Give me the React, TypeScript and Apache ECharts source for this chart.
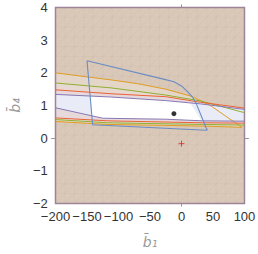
import React, { useEffect, useRef } from "react";
import * as echarts from "echarts";

// Tick labels
const xTickLabels = [-200, -150, -100, -50, 0, 50, 100];
const yTickLabels = [-2, -1, 0, 1, 2, 3, 4];
const xMinorTicks = [-200, -190, -180, -170, -160, -150, -140, -130, -120, -110, -100, -90, -80, -70, -60, -50, -40, -30, -20, -10, 0, 10, 20, 30, 40, 50, 60, 70, 80, 90, 100];
const yMinorTicks = [-2, -1.8, -1.6, -1.4, -1.2, -1, -0.8, -0.6, -0.4, -0.2, 0, 0.2, 0.4, 0.6, 0.8, 1, 1.2, 1.4, 1.6, 1.8, 2, 2.2, 2.4, 2.6, 2.8, 3, 3.2, 3.4, 3.6, 3.8, 4];

// Plotted region
const regionX = [-200, 100];
const regionY = [-2, 4];

// Blue polygon boundary
const polyX = [-150, -27, -12, 0, 10, 18, 23, 39, 41, 39, -141];
const polyY = [2.37, 1.8, 1.73, 1.6, 1.42, 1.24, 1.08, 0.32, 0.26, 0.24, 0.41];

// Curve families (upper / lower boundaries)
const orangeUpX = [-200, -110, -70, -25, 16, 45, 96];
const orangeUpY = [2.0, 1.78, 1.67, 1.5, 1.28, 1.01, 0.33];
const orangeLoX = [-200, -117, 33, 96];
const orangeLoY = [0.51, 0.42, 0.37, 0.33];

const greenUpX = [-200, -112, -25, 30, 100];
const greenUpY = [1.69, 1.54, 1.32, 1.14, 0.78];
const greenLoX = [-200, -117, 33, 100];
const greenLoY = [0.57, 0.47, 0.42, 0.4];

const redUpX = [-200, -112, -25, 30, 100];
const redUpY = [1.48, 1.36, 1.27, 1.1, 0.92];
const redLoX = [-200, -117, 33, 100];
const redLoY = [0.62, 0.53, 0.47, 0.46];

const purpleUpX = [-200, -112, -25, 30, 100];
const purpleUpY = [1.34, 1.26, 1.15, 1.05, 0.88];
const purpleLoX = [-200, -125, -25, 33, 100];
const purpleLoY = [0.93, 0.61, 0.58, 0.53, 0.52];

// Points
const dotX = [-12];
const dotY = [0.75];
const crossX = [0];
const crossY = [-0.17];

const zip = (xs: number[], ys: number[]) => xs.map((x, i) => [x, ys[i]]);
const band = (ux: number[], uy: number[], lx: number[], ly: number[]) =>
  zip(ux, uy).concat(zip(lx, ly).reverse());

function clipPolygon(subject: number[][], clip: number[][]) {
  let area = 0;
  for (let i = 0; i < clip.length; i++) {
    const a = clip[i], b = clip[(i + 1) % clip.length];
    area += a[0] * b[1] - b[0] * a[1];
  }
  const sgn = area > 0 ? 1 : -1;
  let output = subject;
  for (let i = 0; i < clip.length; i++) {
    const a = clip[i], b = clip[(i + 1) % clip.length];
    const f = (p: number[]) => sgn * ((b[0] - a[0]) * (p[1] - a[1]) - (b[1] - a[1]) * (p[0] - a[0]));
    const input = output;
    output = [];
    for (let j = 0; j < input.length; j++) {
      const cur = input[j];
      const prev = input[(j + input.length - 1) % input.length];
      const fc = f(cur), fp = f(prev);
      const inter = () => {
        const t = fp / (fp - fc);
        return [prev[0] + t * (cur[0] - prev[0]), prev[1] + t * (cur[1] - prev[1])];
      };
      if (fc >= 0) {
        if (fp < 0) output.push(inter());
        output.push(cur);
      } else if (fp >= 0) {
        output.push(inter());
      }
    }
    if (!output.length) break;
  }
  return output;
}

const fillSeries = (pts: number[][], fill: string, stroke = "none", lw = 0) => ({
  type: "custom",
  coordinateSystem: "cartesian2d",
  silent: true,
  data: [[0, 0]],
  renderItem: (_p: any, api: any) => ({
    type: "polygon",
    shape: { points: pts.map((p) => api.coord(p)) },
    style: { fill, stroke, lineWidth: lw },
  }),
});

// faint rendering-mesh texture over the region (style only)
const meshSeries = () => ({
  type: "custom",
  coordinateSystem: "cartesian2d",
  silent: true,
  data: [[0, 0]],
  renderItem: (_p: any, api: any) => {
    const p0 = api.coord([regionX[0], regionY[1]]);
    const p1 = api.coord([regionX[1], regionY[0]]);
    const x0 = p0[0], y0 = p0[1], x1 = p1[0], y1 = p1[1];
    const n = 20;
    const sx = (x1 - x0) / n, sy = (y1 - y0) / n;
    const children: any[] = [];
    const gridStyle = { stroke: "rgba(120,100,90,0.07)", lineWidth: 0.6 };
    const diagStyle = { stroke: "rgba(120,100,90,0.11)", lineWidth: 0.6 };
    for (let i = 1; i < n; i++) {
      children.push({ type: "line", shape: { x1: x0 + i * sx, y1: y0, x2: x0 + i * sx, y2: y1 }, style: gridStyle });
      children.push({ type: "line", shape: { x1: x0, y1: y0 + i * sy, x2: x1, y2: y0 + i * sy }, style: gridStyle });
    }
    for (let k = 1; k < 2 * n; k++) {
      const seg: number[][] = [];
      for (let i = 0; i <= n; i++) {
        const j = k - i;
        if (j >= 0 && j <= n) seg.push([x0 + i * sx, y0 + j * sy]);
      }
      if (seg.length >= 2) {
        const a = seg[0], b = seg[seg.length - 1];
        children.push({ type: "line", shape: { x1: a[0], y1: a[1], x2: b[0], y2: b[1] }, style: diagStyle });
      }
    }
    return { type: "group", children };
  },
});

const lineSeries = (xs: number[], ys: number[], color: string, w = 1) => ({
  type: "line",
  data: zip(xs, ys),
  symbol: "none",
  silent: true,
  lineStyle: { color, width: w },
});

export default function App() {
  const ref = useRef<HTMLDivElement>(null);
  useEffect(() => {
    if (!ref.current) return;
    document.body.style.margin = "0";
    const chart = echarts.init(ref.current, null, { renderer: "svg" });
    const poly = zip(polyX, polyY);
    const purpleBand = band(purpleUpX, purpleUpY, purpleLoX, purpleLoY);
    const whiteArea = clipPolygon(purpleBand, poly);
    const regionRect = [
      [regionX[0], regionY[0]],
      [regionX[1], regionY[0]],
      [regionX[1], regionY[1]],
      [regionX[0], regionY[1]],
    ];
    const frameColor = "#9a9a9a";
    const labelStyle = { color: "#333", fontSize: 13, fontFamily: "Liberation Sans" };
    const fmt = (v: number) => String(v).replace("-", "\u2212");
    const mkX = (position: string, ticks: number[], len: number, labels: boolean, line: boolean, extra: any = {}) => ({
      type: "value",
      position,
      min: -206,
      max: 106,
      axisLine: { show: line, lineStyle: { color: frameColor, width: 1 } },
      axisTick: { show: true, inside: true, length: len, customValues: ticks, lineStyle: { color: frameColor } },
      axisLabel: labels ? { ...labelStyle, customValues: xTickLabels, margin: 4, formatter: fmt } : { show: false },
      splitLine: { show: false },
      ...extra,
    });
    const mkY = (position: string, ticks: number[], len: number, labels: boolean, line: boolean, extra: any = {}) => ({
      type: "value",
      position,
      min: -2.08,
      max: 4.08,
      axisLine: { show: line, lineStyle: { color: frameColor, width: 1 } },
      axisTick: { show: true, inside: true, length: len, customValues: ticks, lineStyle: { color: frameColor } },
      axisLabel: labels ? { ...labelStyle, customValues: yTickLabels, margin: 4, formatter: fmt } : { show: false },
      splitLine: { show: false },
      ...extra,
    });
    chart.setOption({
      animation: false,
      grid: { left: 35, right: 7, top: 5, bottom: 37 },
      xAxis: [
        mkX("bottom", xTickLabels, 4, true, true, {
          name: "b\u0304\u2081",
          nameLocation: "middle",
          nameGap: 29,
          nameTextStyle: { color: "#999", fontSize: 14, fontStyle: "italic", fontFamily: "DejaVu Sans" },
        }),
        mkX("bottom", xMinorTicks, 2, false, false),
        mkX("top", xTickLabels, 4, false, true),
        mkX("top", xMinorTicks, 2, false, false),
      ],
      yAxis: [
        mkY("left", yTickLabels, 4, true, true, {
          name: "b\u0304\u2084",
          nameLocation: "middle",
          nameGap: 22,
          nameTextStyle: { color: "#999", fontSize: 14, fontStyle: "italic", fontFamily: "DejaVu Sans" },
        }),
        mkY("left", yMinorTicks, 2, false, false),
        mkY("right", yTickLabels, 4, false, true),
        mkY("right", yMinorTicks, 2, false, false),
      ],
      series: [
        fillSeries(regionRect, "#dac9b8"),
        meshSeries(),
        fillSeries(band(orangeUpX, orangeUpY, orangeLoX, orangeLoY), "rgba(229,216,202,0.85)"),
        fillSeries(band(greenUpX, greenUpY, greenLoX, greenLoY), "rgba(232,216,210,0.85)"),
        fillSeries(band(redUpX, redUpY, redLoX, redLoY), "rgba(230,216,222,0.85)"),
        fillSeries(purpleBand, "#e9ecf6"),
        fillSeries(whiteArea, "#ffffff"),
        fillSeries(regionRect, "none", "#9c8598", 1.5),
        lineSeries(orangeUpX, orangeUpY, "#e19c24"),
        lineSeries(orangeLoX, orangeLoY, "#e19c24"),
        lineSeries(greenUpX, greenUpY, "#8fb032"),
        lineSeries(greenLoX, greenLoY, "#8fb032"),
        lineSeries(redUpX, redUpY, "#eb6235"),
        lineSeries(redLoX, redLoY, "#eb6235"),
        lineSeries(purpleUpX, purpleUpY, "#8778b3"),
        lineSeries(purpleLoX, purpleLoY, "#8778b3"),
        lineSeries(polyX.concat([polyX[0]]), polyY.concat([polyY[0]]), "#6a8cc4", 1.1),
        {
          type: "scatter",
          data: zip(dotX, dotY),
          symbolSize: 5,
          itemStyle: { color: "#000" },
          silent: true,
        },
        {
          type: "scatter",
          data: zip(crossX, crossY),
          symbol: "path://M0,5L10,5M5,0L5,10",
          symbolSize: 6,
          itemStyle: { color: "none", borderColor: "#e02020", borderWidth: 1 },
          silent: true,
        },
      ],
    });
    return () => chart.dispose();
  }, []);
  return <div ref={ref} style={{ width: 258, height: 254 }} />;
}
